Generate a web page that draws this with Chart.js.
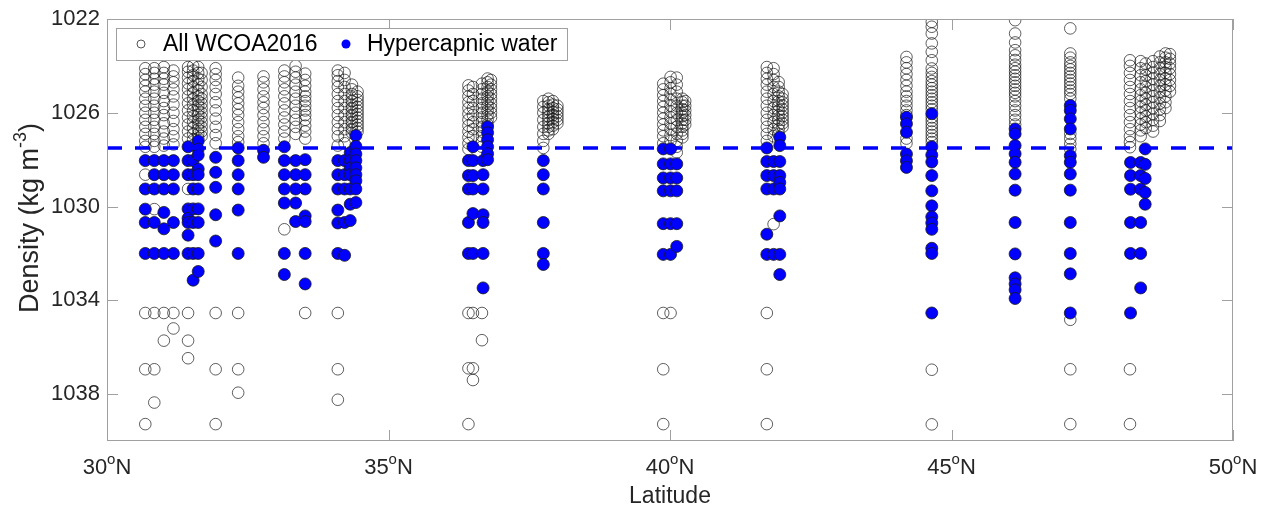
<!DOCTYPE html>
<html>
<head>
<meta charset="utf-8">
<script src="https://cdn.jsdelivr.net/npm/chart.js@4.4.1/dist/chart.umd.min.js"></script>
<style>
  html, body { margin: 0; padding: 0; background: #ffffff; }
  #wrap { width: 1270px; height: 514px; }
</style>
</head>
<body>
<div id="wrap"><canvas id="densityChart" width="1270" height="514"></canvas></div>
<script>
// Station latitudes (deg N) and densities of all WCOA2016 samples
const allLat = [30.68, 30.84, 31.01, 31.18, 31.44, 31.53, 31.62, 31.68, 31.93, 32.33, 32.78, 33.15, 33.35, 33.52, 34.1, 34.22, 34.35, 34.45,
  36.42, 36.5, 36.66, 36.76, 36.82, 37.75, 37.84, 37.92, 38.0,
  39.88, 40.01, 40.12, 40.22, 40.27, 41.72, 41.84, 41.93, 42.0,
  44.2, 44.65, 46.13, 47.11, 48.17, 48.36, 48.45, 48.58, 48.7, 48.8, 48.88];
const allDensity = [
  [1024.1, 1024.35, 1024.6, 1024.85, 1025.1, 1025.4, 1025.7, 1026.0, 1026.3, 1026.6, 1026.9, 1027.2, 1027.45, 1028.64, 1034.54, 1036.94, 1039.28],
  [1024.1, 1024.3, 1024.55, 1024.8, 1025.1, 1025.4, 1025.7, 1026.0, 1026.3, 1026.6, 1026.9, 1027.2, 1027.45, 1030.11, 1034.54, 1036.94, 1038.36],
  [1024.05, 1024.3, 1024.55, 1024.8, 1025.15, 1025.5, 1025.8, 1026.1, 1026.45, 1026.8, 1027.1, 1027.4, 1034.54, 1035.72],
  [1024.2, 1024.45, 1024.7, 1025.0, 1025.3, 1025.65, 1026.0, 1026.35, 1026.7, 1027.0, 1027.35, 1034.54, 1035.2],
  [1024.05, 1024.25, 1024.5, 1024.75, 1025.0, 1025.3, 1025.6, 1025.9, 1026.2, 1026.5, 1026.8, 1027.1, 1029.25, 1034.54, 1035.72, 1036.47],
  [1024.0, 1024.2, 1024.4, 1024.65, 1024.9, 1025.15, 1025.4, 1025.65, 1025.9, 1026.15, 1026.4, 1026.65, 1026.9, 1027.15, 1027.4],
  [1024.05, 1024.3, 1024.55, 1024.8, 1025.05, 1025.3, 1025.5, 1025.7, 1025.9, 1026.1, 1026.3, 1026.5, 1026.7, 1026.9, 1027.1],
  [1024.3, 1024.6, 1024.9, 1025.2, 1025.4, 1025.6, 1025.8, 1026.0, 1026.2, 1026.4, 1026.6, 1026.8, 1027.0],
  [1024.1, 1024.35, 1024.6, 1024.9, 1025.2, 1025.55, 1025.9, 1026.25, 1026.6, 1026.95, 1027.3, 1034.54, 1036.94, 1039.28],
  [1024.5, 1024.85, 1025.1, 1025.35, 1025.6, 1025.85, 1026.1, 1026.4, 1026.7, 1027.0, 1027.25, 1034.54, 1036.94, 1037.94],
  [1024.45, 1024.7, 1025.0, 1025.3, 1025.55, 1025.8, 1026.1, 1026.4, 1026.7, 1027.0, 1027.3],
  [1024.2, 1024.45, 1024.7, 1025.0, 1025.3, 1025.6, 1025.9, 1026.2, 1026.5, 1026.8, 1027.1, 1030.97],
  [1024.0, 1024.25, 1024.5, 1024.8, 1025.1, 1025.4, 1025.7, 1026.0, 1026.3, 1026.6, 1026.9],
  [1024.33, 1024.6, 1024.85, 1025.1, 1025.3, 1025.5, 1025.7, 1025.9, 1026.1, 1026.3, 1026.55, 1026.8, 1027.1, 1034.54],
  [1024.2, 1024.4, 1024.65, 1024.9, 1025.2, 1025.5, 1025.8, 1026.1, 1026.4, 1026.7, 1027.0, 1027.4, 1034.54, 1036.94, 1038.24],
  [1024.3, 1024.6, 1024.9, 1025.2, 1025.5, 1025.8, 1026.1, 1026.4, 1026.7, 1027.0, 1027.3],
  [1024.8, 1025.0, 1025.2, 1025.35, 1025.5, 1025.65, 1025.8, 1025.95, 1026.1, 1026.25, 1026.4, 1026.55, 1026.7, 1026.85],
  [1025.1, 1025.3, 1025.45, 1025.6, 1025.75, 1025.9, 1026.05, 1026.2, 1026.35, 1026.5, 1026.65, 1026.8],
  [1024.83, 1025.05, 1025.3, 1025.55, 1025.8, 1026.05, 1026.3, 1026.55, 1026.8, 1027.05, 1027.3, 1027.55, 1034.54, 1036.9, 1039.28],
  [1024.9, 1025.2, 1025.5, 1025.8, 1026.1, 1026.4, 1026.7, 1027.0, 1034.54, 1036.9, 1037.4],
  [1024.76, 1025.0, 1025.2, 1025.4, 1025.6, 1025.8, 1026.0, 1026.2, 1026.4, 1026.6, 1026.8, 1027.0, 1027.2, 1027.45, 1034.54, 1035.7],
  [1024.54, 1024.7, 1024.9, 1025.1, 1025.3, 1025.5, 1025.7, 1025.9, 1026.1, 1026.3, 1026.5],
  [1024.6, 1024.8, 1025.0, 1025.2, 1025.4, 1025.6, 1025.8, 1026.0, 1026.2],
  [1025.5, 1025.75, 1026.0, 1026.3, 1026.6, 1026.9, 1027.2, 1027.5],
  [1025.4, 1025.55, 1025.7, 1025.85, 1026.0, 1026.15, 1026.3, 1026.45, 1026.6, 1026.75, 1026.9],
  [1025.5, 1025.65, 1025.8, 1025.95, 1026.1, 1026.25, 1026.4, 1026.55, 1026.7],
  [1025.7, 1025.85, 1026.0, 1026.15, 1026.3, 1026.45],
  [1024.76, 1025.0, 1025.25, 1025.5, 1025.75, 1026.0, 1026.25, 1026.5, 1026.75, 1027.0, 1027.3, 1034.54, 1036.94, 1039.28],
  [1024.47, 1024.7, 1024.95, 1025.2, 1025.45, 1025.7, 1025.95, 1026.2, 1026.45, 1026.7, 1026.95, 1027.2, 1034.54],
  [1024.5, 1024.8, 1025.1, 1025.4, 1025.7, 1026.0, 1026.3, 1026.6, 1026.9, 1027.2, 1027.45, 1027.69],
  [1025.4, 1025.55, 1025.7, 1025.85, 1026.0, 1026.15, 1026.3, 1026.45, 1026.6, 1026.75, 1026.9, 1027.05],
  [1025.5, 1025.7, 1025.9, 1026.1, 1026.3, 1026.5],
  [1024.05, 1024.3, 1024.55, 1024.8, 1025.1, 1025.4, 1025.7, 1026.0, 1026.3, 1026.6, 1026.9, 1027.2, 1034.54, 1036.94, 1039.28],
  [1024.1, 1024.35, 1024.6, 1024.9, 1025.2, 1025.5, 1025.8, 1026.1, 1026.4, 1026.7, 1027.0, 1030.75],
  [1024.69, 1024.9, 1025.1, 1025.3, 1025.5, 1025.7, 1025.9, 1026.1, 1026.3, 1026.5, 1026.7, 1026.9],
  [1025.2, 1025.4, 1025.55, 1025.7, 1025.85, 1026.0, 1026.15, 1026.3, 1026.45, 1026.6],
  [1023.62, 1023.85, 1024.1, 1024.35, 1024.6, 1024.85, 1025.1, 1025.3, 1025.5, 1025.7, 1025.9, 1026.1, 1027.1, 1027.3],
  [1022.12, 1022.33, 1022.62, 1023.04, 1023.4, 1023.76, 1024.11, 1024.3, 1024.47, 1024.65, 1024.8, 1024.95, 1025.1, 1025.25, 1025.4, 1025.55, 1025.7, 1025.85, 1026.2, 1026.35, 1026.5, 1026.65, 1026.8, 1026.95, 1027.1, 1027.25, 1036.96, 1039.29],
  [1022.05, 1022.62, 1023.0, 1023.33, 1023.55, 1023.75, 1023.95, 1024.1, 1024.25, 1024.4, 1024.55, 1024.7, 1024.85, 1025.0, 1025.15, 1025.3, 1025.5, 1025.7, 1025.9, 1026.1, 1026.3, 1026.5],
  [1022.4, 1023.47, 1023.65, 1023.85, 1024.0, 1024.15, 1024.3, 1024.45, 1024.6, 1024.75, 1024.9, 1025.05, 1025.2, 1025.4, 1026.9, 1027.1, 1027.33, 1027.55, 1034.83, 1036.94, 1039.28],
  [1023.76, 1024.0, 1024.3, 1024.6, 1024.9, 1025.2, 1025.5, 1025.8, 1026.1, 1026.4, 1026.7, 1027.0, 1027.25, 1027.47, 1036.94, 1039.28],
  [1023.8, 1024.1, 1024.4, 1024.7, 1025.0, 1025.25, 1025.5, 1025.75, 1026.0, 1026.25, 1026.5, 1026.75, 1027.0],
  [1023.9, 1024.15, 1024.4, 1024.65, 1024.9, 1025.15, 1025.4, 1025.65, 1025.9, 1026.15, 1026.4, 1026.65],
  [1023.8, 1024.05, 1024.3, 1024.55, 1024.8, 1025.05, 1025.3, 1025.55, 1025.8, 1026.05, 1026.3, 1026.55, 1026.8],
  [1023.6, 1023.85, 1024.1, 1024.35, 1024.6, 1024.85, 1025.1, 1025.35, 1025.6, 1025.85, 1026.1, 1026.35],
  [1023.47, 1023.65, 1023.85, 1024.05, 1024.3, 1024.55, 1024.8, 1025.05, 1025.3, 1025.55, 1025.8],
  [1023.5, 1023.7, 1023.9, 1024.1, 1024.35, 1024.6, 1024.85, 1025.1]
];

// Hypercapnic water samples
const hyperLat = [30.68, 30.84, 31.01, 31.18, 31.44, 31.53, 31.62, 31.93, 32.33, 32.78, 33.15, 33.35, 33.52, 34.1, 34.22, 34.32, 34.42,
  36.42, 36.5, 36.68, 36.76, 37.75, 39.88, 40.01, 40.12, 41.72, 41.84, 41.95,
  44.2, 44.65, 46.13, 47.11, 48.18, 48.36, 48.44];
const hyperDensity = [
  [1028.04, 1029.25, 1030.11, 1030.68, 1032.0],
  [1028.04, 1028.64, 1029.25, 1030.68, 1032.0],
  [1028.04, 1028.64, 1029.25, 1030.25, 1030.95, 1032.0],
  [1028.04, 1028.64, 1029.25, 1030.68, 1032.0],
  [1027.45, 1028.04, 1028.64, 1030.1, 1030.5, 1030.68, 1031.22, 1032.0],
  [1028.04, 1028.64, 1029.25, 1030.1, 1030.68, 1032.0, 1033.14],
  [1027.2, 1027.55, 1027.8, 1028.4, 1028.64, 1029.25, 1030.1, 1030.68, 1032.0, 1032.77],
  [1027.9, 1028.54, 1029.18, 1030.35, 1031.47],
  [1027.5, 1028.04, 1028.64, 1029.25, 1030.15, 1032.0],
  [1027.6, 1027.9],
  [1027.45, 1028.04, 1028.64, 1029.25, 1029.85, 1032.0, 1032.9],
  [1028.04, 1028.64, 1029.25, 1029.85, 1030.64],
  [1028.0, 1028.64, 1029.25, 1030.4, 1030.64, 1032.0, 1033.3],
  [1028.04, 1028.64, 1029.25, 1030.15, 1030.7, 1032.0],
  [1028.04, 1028.64, 1029.25, 1030.68, 1032.08],
  [1027.7, 1028.04, 1028.35, 1028.64, 1029.25, 1029.9, 1030.6],
  [1026.97, 1027.43, 1027.76, 1028.04, 1028.35, 1028.64, 1028.9, 1029.25, 1029.83],
  [1028.04, 1028.68, 1029.25, 1030.68, 1032.0],
  [1027.45, 1028.04, 1028.68, 1029.25, 1030.3, 1032.0],
  [1028.04, 1028.64, 1029.25, 1030.35, 1030.68, 1032.0, 1033.47],
  [1026.6, 1026.85, 1027.15, 1027.45, 1027.75, 1028.0],
  [1028.04, 1028.64, 1029.25, 1030.68, 1032.0, 1032.47],
  [1027.54, 1028.18, 1028.78, 1029.33, 1030.73, 1032.04],
  [1027.54, 1028.18, 1028.78, 1029.33, 1030.73, 1032.04],
  [1028.18, 1028.78, 1029.33, 1030.73, 1031.7],
  [1027.5, 1028.08, 1028.68, 1029.25, 1031.18, 1032.04],
  [1028.08, 1028.68, 1029.25, 1032.04],
  [1027.04, 1027.4, 1028.08, 1028.68, 1028.97, 1029.25, 1030.4, 1032.04, 1032.9],
  [1026.19, 1026.47, 1026.83, 1027.76, 1028.05, 1028.33],
  [1026.04, 1027.45, 1027.8, 1028.1, 1028.68, 1029.33, 1029.97, 1030.44, 1030.7, 1030.97, 1031.78, 1032.0, 1034.54],
  [1026.69, 1026.9, 1027.4, 1027.75, 1028.11, 1028.61, 1029.3, 1030.68, 1032.02, 1033.04, 1033.3, 1033.55, 1033.92],
  [1025.69, 1025.9, 1026.26, 1026.69, 1027.83, 1028.11, 1028.61, 1029.3, 1030.68, 1032.0, 1032.87, 1034.54],
  [1028.12, 1028.68, 1029.26, 1030.68, 1032.0, 1034.54],
  [1028.12, 1028.68, 1029.26, 1030.68, 1032.0, 1033.47],
  [1027.54, 1028.2, 1028.8, 1029.4, 1029.9]
];

// Threshold line and axes
const thresholdDensity = 1027.5;
const latRange = [30, 50];
const densityRange = [1022, 1040];
const xTicks = [30, 35, 40, 45, 50];
const yTicks = [1022, 1026, 1030, 1034, 1038];
const legendLabels = ["All WCOA2016", "Hypercapnic water"];

const FONT = "'Liberation Sans', Arial, Helvetica, sans-serif";
const TEXT_COLOR = "#262626";
const AXIS_COLOR = "#a0a0a0";

function toPoints(lats, dens) {
  const pts = [];
  lats.forEach((lat, i) => dens[i].forEach(d => pts.push({ x: lat, y: d })));
  return pts;
}

// base text followed by a raised, smaller string, then a tail
function drawSupText(ctx, x, y, base, sup, tail, size, align) {
  ctx.font = `${size}px ${FONT}`;
  const wBase = ctx.measureText(base).width;
  const wTail = ctx.measureText(tail).width;
  ctx.font = `${Math.round(size * 0.68)}px ${FONT}`;
  const wSup = ctx.measureText(sup).width;
  const total = wBase + wSup + wTail;
  let x0 = align === "center" ? x - total / 2 : x;
  ctx.textAlign = "left";
  ctx.textBaseline = "middle";
  ctx.font = `${size}px ${FONT}`;
  ctx.fillText(base, x0, y);
  ctx.font = `${Math.round(size * 0.68)}px ${FONT}`;
  ctx.fillText(sup, x0 + wBase, y - size * 0.38);
  ctx.font = `${size}px ${FONT}`;
  ctx.fillText(tail, x0 + wBase + wSup, y);
}

const axesPlugin = {
  id: "matlabAxes",
  afterDraw(chart) {
    const { ctx, chartArea: a, scales } = chart;
    const xs = scales.x, ys = scales.y;
    ctx.save();

    // box
    ctx.strokeStyle = AXIS_COLOR;
    ctx.lineWidth = 1;
    ctx.strokeRect(a.left + 0.5, a.top + 0.5, a.right - a.left - 1, a.bottom - a.top - 1);

    // inward ticks on all four sides
    const tickLen = 11;
    ctx.beginPath();
    xTicks.forEach(t => {
      const px = Math.round(xs.getPixelForValue(t)) + 0.5;
      ctx.moveTo(px, a.bottom); ctx.lineTo(px, a.bottom - tickLen);
      ctx.moveTo(px, a.top); ctx.lineTo(px, a.top + tickLen);
    });
    yTicks.forEach(t => {
      const py = Math.round(ys.getPixelForValue(t)) + 0.5;
      ctx.moveTo(a.left, py); ctx.lineTo(a.left + tickLen, py);
      ctx.moveTo(a.right, py); ctx.lineTo(a.right - tickLen, py);
    });
    ctx.stroke();

    // tick labels
    ctx.fillStyle = TEXT_COLOR;
    ctx.font = `22px ${FONT}`;
    ctx.textAlign = "right";
    ctx.textBaseline = "middle";
    yTicks.forEach(t => ctx.fillText(String(t), a.left - 7, ys.getPixelForValue(t)));
    xTicks.forEach(t => drawSupText(ctx, xs.getPixelForValue(t), a.bottom + 27, String(t), "o", "N", 22, "center"));

    // axis titles
    ctx.font = `23px ${FONT}`;
    ctx.textAlign = "center";
    ctx.textBaseline = "middle";
    ctx.fillText("Latitude", (a.left + a.right) / 2, a.bottom + 56);
    ctx.save();
    ctx.translate(31, 218);
    ctx.rotate(-Math.PI / 2);
    drawSupText(ctx, 0, 0, "Density (kg m", "-3", ")", 27, "center");
    ctx.restore();

    // legend
    const lx = 116, ly = 28, lw = 451, lh = 32;
    ctx.fillStyle = "#ffffff";
    ctx.fillRect(lx, ly, lw, lh);
    ctx.strokeStyle = AXIS_COLOR;
    ctx.strokeRect(lx + 0.5, ly + 0.5, lw, lh);
    const cy = ly + lh / 2;
    ctx.beginPath();
    ctx.arc(141, cy, 4, 0, Math.PI * 2);
    ctx.strokeStyle = "#555";
    ctx.stroke();
    ctx.beginPath();
    ctx.arc(346, cy, 4.5, 0, Math.PI * 2);
    ctx.fillStyle = "#0000ff";
    ctx.fill();
    ctx.fillStyle = "#000000";
    ctx.font = `23px ${FONT}`;
    ctx.textAlign = "left";
    ctx.fillText(legendLabels[0], 163, cy + 1);
    ctx.fillText(legendLabels[1], 367, cy + 1);

    ctx.restore();
  }
};

const ctx = document.getElementById("densityChart");
new Chart(ctx, {
  type: "scatter",
  data: {
    datasets: [
      {
        label: "threshold",
        data: [{ x: latRange[0], y: thresholdDensity }, { x: latRange[1], y: thresholdDensity }],
        showLine: true,
        borderColor: "#0000ff",
        borderWidth: 3.5,
        borderDash: [15, 13],
        pointRadius: 0,
        order: 0
      },
      {
        label: legendLabels[1],
        data: toPoints(hyperLat, hyperDensity),
        pointRadius: 6,
        backgroundColor: "#0000ff",
        borderColor: "#1a1a1a",
        borderWidth: 0.8,
        order: 1
      },
      {
        label: legendLabels[0],
        data: toPoints(allLat, allDensity),
        pointRadius: 5.8,
        backgroundColor: "rgba(0,0,0,0)",
        borderColor: "rgba(20,20,20,0.68)",
        borderWidth: 1,
        order: 2
      }
    ]
  },
  options: {
    responsive: false,
    animation: false,
    layout: { padding: { left: 107, right: 37, top: 19, bottom: 73 } },
    plugins: {
      legend: { display: false },
      tooltip: { enabled: false }
    },
    scales: {
      x: { type: "linear", display: false, min: latRange[0], max: latRange[1] },
      y: { type: "linear", display: false, reverse: true, min: densityRange[0], max: densityRange[1] }
    }
  },
  plugins: [axesPlugin]
});
</script>
</body>
</html>
